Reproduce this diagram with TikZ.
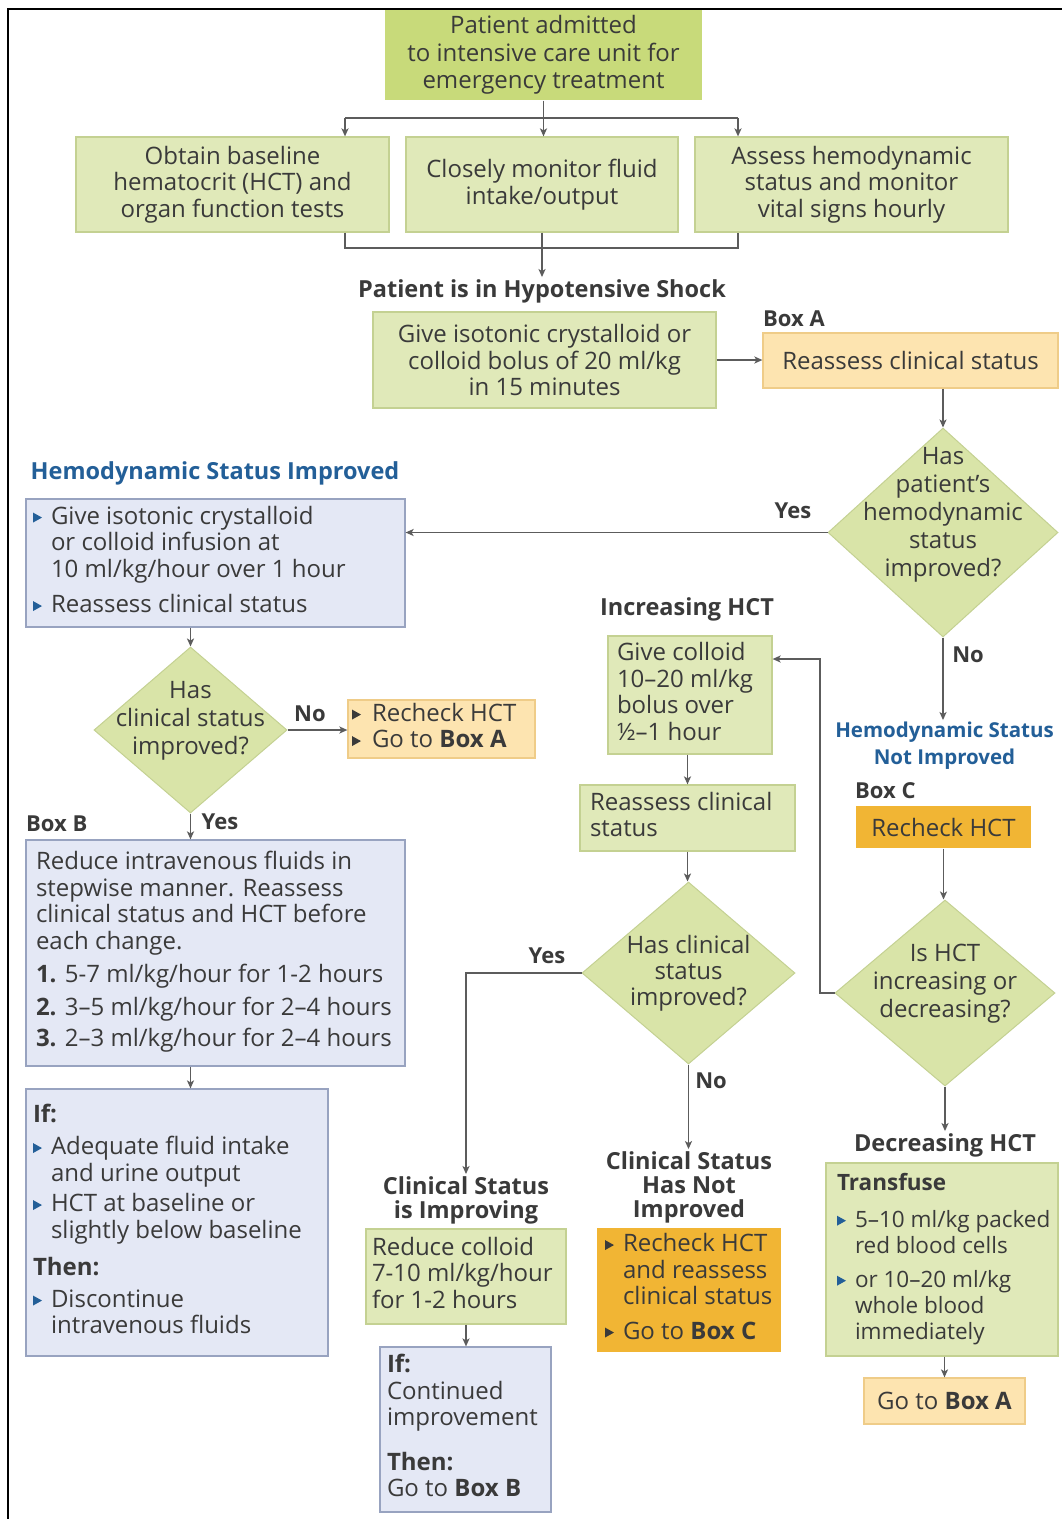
\documentclass[tikz,border=0pt]{standalone}
\usepackage{fontspec}
\setmainfont{Open Sans}
\usetikzlibrary{arrows.meta,shapes.geometric}

\definecolor{ink}{HTML}{3A3A3A}
\definecolor{wire}{HTML}{5C5C5C}
\definecolor{gDark}{HTML}{C8DA7A}
\definecolor{gFill}{HTML}{E0E9B9}
\definecolor{gLine}{HTML}{C4D192}
\definecolor{gDia}{HTML}{D9E4A8}
\definecolor{oFill}{HTML}{FDE4B0}
\definecolor{oLine}{HTML}{EFCC88}
\definecolor{oDark}{HTML}{F1B534}
\definecolor{bFill}{HTML}{E4E8F5}
\definecolor{bLine}{HTML}{98A3C0}
\definecolor{bHead}{HTML}{235F98}

% small triangular bullet
\newcommand\tri[1]{\tikz[baseline=0pt]\fill[#1] (0pt,1.5pt) -- (9pt,6.5pt) -- (0pt,11.5pt) -- cycle;}
\newcommand\bul[2][18pt]{\makebox[#1][l]{\tri{#2}}}
\newcommand\ind[1][18pt]{\hspace*{#1}}
% left-flush block of fixed width, broken only at \\
\newcommand\lft[2]{\makebox[#1][l]{\begin{tabular}{@{}l@{}}#2\end{tabular}}}

\tikzset{
  body/.style={font=\fontsize{24}{26.5}\selectfont, text=ink},
  box/.style={body, rectangle, inner ysep=0pt, line width=1.2pt},
  gbox/.style={box, fill=gFill, draw=gLine},
  topbox/.style={box, fill=gDark},
  obox/.style={box, fill=oFill, draw=oLine},
  odark/.style={box, fill=oDark},
  bbox/.style={box, fill=bFill, draw=bLine},
  dia/.style={diamond, fill=gDia, draw=gLine, line width=1pt, inner sep=0pt},
  diatext/.style={font=\fontsize{24}{28}\selectfont, text=ink, align=center, inner sep=0pt},
  head/.style={font=\bfseries\fontsize{23.5}{24}\selectfont, text=ink, align=center, inner sep=2pt},
  bhead/.style={head, text=bHead},
  tag/.style={font=\bfseries\fontsize{22}{24}\selectfont, text=ink, inner sep=0pt},
  ln/.style={draw=wire, line width=1.5pt},
  arr/.style={ln, -{Stealth[length=8pt,width=7pt,inset=2pt]}},
}

\begin{document}
\begin{tikzpicture}[x=1pt,y=-1pt]
\useasboundingbox (0,0) rectangle (1062,1519);
\fill[white] (0,0) rectangle (1062,1519);
\draw[line width=2.5pt] (8,1519) -- (8,9) -- (1062,9);

% admission and first actions
\node[topbox, minimum width=317pt, minimum height=90pt, align=center, font=\fontsize{24}{27.5}\selectfont] (adm) at (543.5,55) {Patient admitted\\to intensive care unit for\\emergency treatment};
\node[gbox, minimum width=313pt, minimum height=95pt, align=center] (base) at (232.5,184.5) {Obtain baseline\\hematocrit (HCT) and\\organ function tests};
\node[gbox, minimum width=272pt, minimum height=95pt, align=center] (fluid) at (542,184.5) {Closely monitor fluid\\intake/output};
\node[gbox, minimum width=313pt, minimum height=95pt, align=center] (vital) at (851.5,184.5) {Assess hemodynamic\\status and monitor\\vital signs hourly};

\node[head] (shock) at (542,291) {Patient is in Hypotensive Shock};
\node[gbox, minimum width=343pt, minimum height=96pt, align=center] (bolus) at (544.5,360) {Give isotonic crystalloid or\\colloid bolus of 20 ml/kg\\in 15 minutes};
\node[tag, anchor=west] (tagA) at (763,319) {Box A};
\node[obox, minimum width=295pt, minimum height=55pt, align=center] (boxA) at (910.5,360.5) {Reassess clinical status};

\node[dia, minimum width=230pt, minimum height=209pt] (q1) at (943,532.5) {};
\node[diatext] (q1t) at (943,515) {Has\\patient’s\\hemodynamic\\status\\improved?};
\node[tag] (yes1) at (793,511) {Yes};

% left branch: hemodynamic status improved
\node[bhead] (hsi) at (215,473) {Hemodynamic Status Improved};
\node[bbox, inner xsep=7pt, minimum width=379pt, minimum height=128pt] (infuse) at (215.5,563) {\lft{365pt}{\bul{bHead}Give isotonic crystalloid\\\ind or colloid infusion at\\\ind 10 ml/kg/hour over 1 hour\\[9pt]\bul{bHead}Reassess clinical status}};

\node[dia, minimum width=193pt, minimum height=166pt] (q2) at (190.5,730) {};
\node[diatext] (q2t) at (190.5,721) {Has\\clinical status\\improved?};
\node[tag] (no2) at (310,714) {No};
\node[obox, inner xsep=4pt, minimum width=187pt, minimum height=58pt] (rech) at (441.5,729) {\lft{179pt}{\bul[20pt]{ink}Recheck HCT\\\bul[20pt]{ink}Go to \textbf{Box A}}};

\node[tag, anchor=west] (tagB) at (26,824) {Box B};
\node[tag] (yes2) at (220,822) {Yes};
\node[bbox, inner xsep=10pt, minimum width=379pt, minimum height=226pt] (boxB) at (215.5,953) {\lft{359pt}{Reduce intravenous fluids in\\stepwise manner. Reassess\\clinical status and HCT before\\each change.\\[7pt]\textbf{1.} 5-7 ml/kg/hour for 1-2 hours\\[6pt]\textbf{2.} 3–5 ml/kg/hour for 2–4 hours\\[5pt]\textbf{3.} 2–3 ml/kg/hour for 2–4 hours}};

\node[bbox, inner xsep=7pt, minimum width=302pt, minimum height=267pt] (ifc) at (177,1222.5) {\lft{288pt}{\textbf{If:}\\[6pt]\bul{bHead}Adequate fluid intake\\\ind and urine output\\[4pt]\bul{bHead}HCT at baseline or\\\ind slightly below baseline\\[11pt]\textbf{Then:}\\[5pt]\bul{bHead}Discontinue\\\ind intravenous fluids}};

% middle column: increasing HCT
\node[head] (inc) at (687,609) {Increasing HCT};
\node[gbox, inner xsep=9pt, minimum width=164pt, minimum height=118pt] (gcol) at (690,695) {\lft{146pt}{Give colloid\\10–20 ml/kg\\bolus over\\½–1 hour}};
\node[gbox, inner xsep=10pt, minimum width=215pt, minimum height=66pt] (reas) at (687.5,818) {\lft{195pt}{Reassess clinical\\status}};
\node[dia, minimum width=213pt, minimum height=182pt] (q3) at (688.5,973) {};
\node[diatext, font=\fontsize{24}{26}\selectfont] (q3t) at (688.5,973) {Has clinical\\status\\improved?};
\node[tag] (yes3) at (547,956) {Yes};
\node[tag] (no3) at (711,1081) {No};

\node[head] (csi) at (466,1200) {Clinical Status\\is Improving};
\node[gbox, inner xsep=6pt, minimum width=200pt, minimum height=95pt] (rcol) at (466,1276.5) {\lft{188pt}{Reduce colloid\\7-10 ml/kg/hour\\for 1-2 hours}};
\node[bbox, inner xsep=7pt, minimum width=171pt, minimum height=165pt] (cont) at (465.5,1429.5) {\lft{157pt}{\textbf{If:}\\Continued\\improvement\\[18pt]\textbf{Then:}\\Go to \textbf{Box B}}};

\node[head] (csn) at (689,1187) {Clinical Status\\Has Not\\Improved};
\node[odark, inner xsep=8pt, minimum width=184pt, minimum height=124pt] (rcb) at (689,1290) {\lft{168pt}{\bul{ink}Recheck HCT\\\ind and reassess\\\ind clinical status\\[8pt]\bul{ink}Go to \textbf{Box C}}};

% right column: hemodynamic status not improved
\node[tag] (no1) at (968,655) {No};
\node[bhead, font=\bfseries\fontsize{20.5}{27}\selectfont] (hsni) at (944.5,746) {Hemodynamic Status\\Not Improved};
\node[tag, anchor=west] (tagC) at (855,791) {Box C};
\node[odark, minimum width=175pt, minimum height=42pt, align=center] (boxC) at (943.5,827) {Recheck HCT};
\node[dia, minimum width=220pt, minimum height=186pt] (q4) at (945,993) {};
\node[diatext] (q4t) at (945,984) {Is HCT\\increasing or\\decreasing?};
\node[head] (dec) at (945,1145) {Decreasing HCT};
\node[gbox, inner xsep=11pt, minimum width=232pt, minimum height=193pt, font=\fontsize{22.5}{26}\selectfont] (trf) at (942,1259.5) {\lft{210pt}{\textbf{Transfuse}\\[11pt]\bul{bHead}5–10 ml/kg packed\\\ind red blood cells\\[8pt]\bul{bHead}or 10–20 ml/kg\\\ind whole blood\\\ind immediately}};
\node[obox, minimum width=161pt, minimum height=46pt, align=center] (goA) at (944.5,1401) {Go to \textbf{Box A}};

% connectors
\coordinate (forkM) at (543.5,118);
\coordinate (forkL) at (345,118);
\coordinate (forkR) at (738,118);
\draw[ln] (adm.south) -- (forkM);
\draw[ln] (forkL) -- (forkR);
\draw[arr] (forkL) -- (forkL |- base.north);
\draw[arr] (forkM) -- (forkM |- fluid.north);
\draw[arr] (forkR) -- (forkR |- vital.north);
\coordinate (joinL) at (345,248);
\coordinate (joinR) at (738,248);
\draw[ln] (joinL |- base.south) -- (joinL) -- (joinR) -- (joinR |- vital.south);
\draw[arr] (fluid.south) -- (fluid.south |- shock.north);
\draw[arr] (bolus.east) -- (bolus.east -| boxA.west);
\draw[arr] (q1.north |- boxA.south) -- (q1.north);
\draw[arr] (q1.west) -- (q1.west -| infuse.east);
\draw[arr] (q2.north |- infuse.south) -- (q2.north);
\draw[arr] (q2.east) -- (q2.east -| rech.west);
\draw[arr] (q2.south) -- (q2.south |- boxB.north);
\draw[arr] (q2.south |- boxB.south) -- (q2.south |- ifc.north);
\draw[arr] (q1.south) -- (q1.south |- hsni.north);
\draw[arr] (boxC.south) -- (boxC.south |- q4.north);
\coordinate (loop) at (820,659);
\draw[arr] (q4.west) -| (loop) -- (loop -| gcol.east);
\draw[arr] (q4.south) -- (q4.south |- dec.north);
\draw[arr] (goA.north |- trf.south) -- (goA.north);
\draw[arr] (reas.north |- gcol.south) -- (reas.north);
\draw[arr] (reas.south) -- (reas.south |- q3.north);
\draw[arr] (q3.west) -| (csi.north);
\draw[arr] (q3.south) -- (q3.south |- csn.north);
\draw[arr] (rcol.south) -- (rcol.south |- cont.north);
\end{tikzpicture}
\end{document}
